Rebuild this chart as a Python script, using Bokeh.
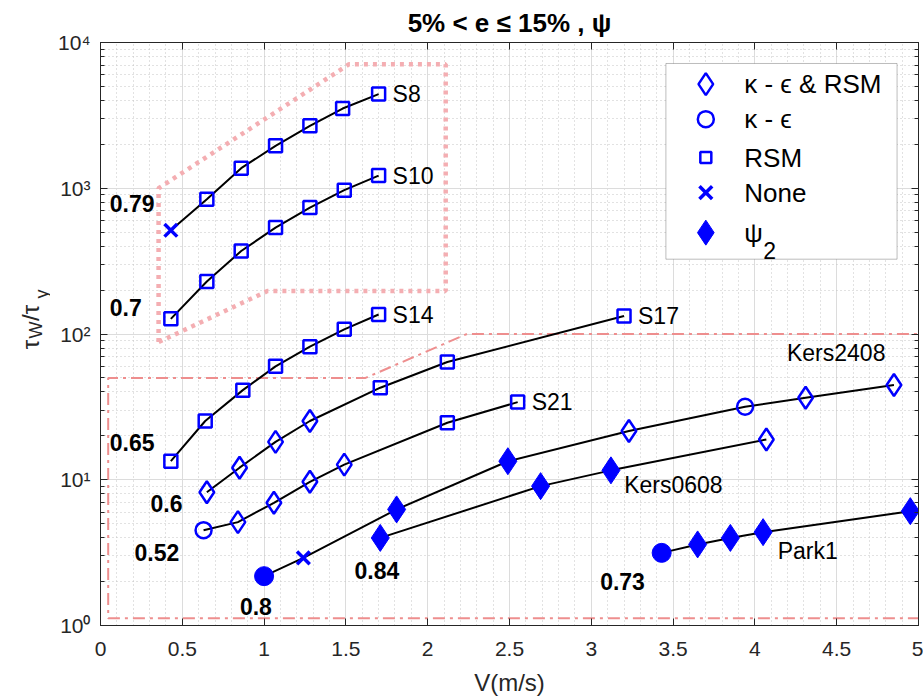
from math import pi
from bokeh.plotting import figure
from bokeh.layouts import row
from bokeh.models import (FixedTicker, CustomJSTickFormatter, LinearAxis, LogAxis,
                          Label, BoxAnnotation, Range1d)
from bokeh.core.properties import value
from bokeh.embed import file_html
from bokeh.resources import INLINE

FONT = "Liberation Sans"
BLUE = "#0000FF"
INK = "#262626"

# ---------------- data ----------------
series_names = ["S8", "S10", "S14", "S17", "S21", "Kers2408", "Kers0608", "Park1"]
series_e = ["0.79", "0.7", "0.65", "0.6", "0.52", "0.8", "0.84", "0.73"]

s8_v = [0.43, 0.65, 0.86, 1.07, 1.28, 1.48, 1.70]
s8_t = [515, 841, 1373, 1955, 2680, 3524, 4425]
s8_m = ["x", "s", "s", "s", "s", "s", "s"]

s10_v = [0.43, 0.65, 0.86, 1.07, 1.28, 1.49, 1.70]
s10_t = [127, 229, 371, 537, 737, 970, 1222]
s10_m = ["s", "s", "s", "s", "s", "s", "s"]

s14_v = [0.43, 0.64, 0.87, 1.07, 1.28, 1.49, 1.70]
s14_t = [13.4, 25.3, 41.2, 60.0, 81.9, 107.7, 136]
s14_m = ["s", "s", "s", "s", "s", "s", "s"]

s17_v = [0.65, 0.85, 1.07, 1.28, 1.71, 2.12, 3.20]
s17_t = [8.2, 12.1, 18.2, 25.3, 42.8, 64.2, 133]
s17_m = ["d", "d", "d", "d", "s", "s", "s"]

s21_v = [0.63, 0.84, 1.06, 1.28, 1.49, 2.12, 2.55]
s21_t = [4.51, 5.12, 6.95, 9.68, 12.7, 24.6, 34.1]
s21_m = ["o", "d", "d", "d", "d", "s", "s"]

k2408_v = [1.00, 1.24, 1.81, 2.49, 3.23, 3.94, 4.31, 4.85]
k2408_t = [2.18, 2.91, 6.26, 13.4, 21.6, 31.7, 36.5, 44.7]
k2408_m = ["O", "x", "D", "D", "d", "o", "d", "d"]

k0608_v = [1.71, 2.69, 3.12, 4.07]
k0608_t = [3.99, 9.04, 11.6, 18.9]
k0608_m = ["D", "D", "D", "d"]

park1_v = [3.43, 3.65, 3.85, 4.05, 4.95]
park1_t = [3.15, 3.60, 3.99, 4.37, 6.09]
park1_m = ["O", "D", "D", "D", "D"]

series_v = [s8_v, s10_v, s14_v, s17_v, s21_v, k2408_v, k0608_v, park1_v]
series_t = [s8_t, s10_t, s14_t, s17_t, s21_t, k2408_t, k0608_t, park1_t]
series_m = [s8_m, s10_m, s14_m, s17_m, s21_m, k2408_m, k0608_m, park1_m]

# region outlines (pink)
dot_region_v = [0.355, 0.355, 1.52, 2.11, 2.11, 1.02, 0.355]
dot_region_t = [88, 1000, 7100, 7100, 197, 197, 88]
dash_region_v = [5.4, 2.24, 1.62, 0.047, 0.047, 5.4]
dash_region_t = [100, 100, 50, 50, 1.12, 1.12]

# axis ticks
x_ticks = [0, 0.5, 1, 1.5, 2, 2.5, 3, 3.5, 4, 4.5, 5]
x_minor = [i / 10 for i in range(0, 51)]
y_ticks = [1, 10, 100, 1000, 10000]
y_minor = [m * 10 ** k for k in range(4) for m in range(2, 10)]

legend_labels = ["\u03ba - \u03f5 & RSM", "\u03ba - \u03f5", "RSM", "None", "\u03c8"]
legend_markers = ["d", "o", "s", "x", "D"]

# y-axis title pieces: tau_W / tau_y
ylab_text = ["\u03c4", "W", "/\u03c4", "y"]

# ---------------- layout values ----------------
e_label_x = [0.057, 0.057, 0.057, 0.306, 0.208, 0.852, 1.553, 3.054]
e_label_t = [789, 153, 17.9, 6.88, 3.15, 1.357, 2.39, 2.01]
name_label_pos = {"Kers2408": (4.196, 74.5), "Kers0608": (3.201, 9.19), "Park1": (4.139, 3.24)}
legend_x = 3.70
legend_text_x = 3.935
legend_t = [5180, 2980, 1624, 934, 496]
ylab_font = ["24px", "18px", "24px", "18px"]
ylab_base_x = [30, 35, 30, 41]        # baseline position (strip pixels, from left)
ylab_start_y = [368, 355, 334, 307]   # where each piece starts (page pixels, from top)

LABEL_W = 50          # width of the strip holding the y-axis title
TOTAL_H = 42 + 583 + 66

STYLE = {
    "s": dict(marker="square", size=13, fill_color=None, line_color=BLUE, line_width=2.5),
    "d": dict(marker="diamond", size=22, fill_color=None, line_color=BLUE, line_width=2.5),
    "o": dict(marker="circle", size=16, fill_color=None, line_color=BLUE, line_width=2.5),
    "x": dict(marker="x", size=18, line_color=BLUE, line_width=3.5),
    "D": dict(marker="diamond", size=27, fill_color=BLUE, line_color=BLUE, line_width=1),
    "O": dict(marker="circle", size=19, fill_color=BLUE, line_color=BLUE, line_width=1),
}

p = figure(frame_width=818, frame_height=583, x_range=Range1d(0, 5), y_range=Range1d(1, 1e4),
           y_axis_type="log", output_backend="svg", toolbar_location=None,
           min_border_left=100 - LABEL_W, min_border_right=5, min_border_top=42, min_border_bottom=66)
p.background_fill_color = "white"
p.border_fill_color = "white"
p.outline_line_color = INK
p.outline_line_width = 1

p.title.text = "5% < e \u2264 15% , \u03c8"
p.title.text_font = FONT
p.title.text_font_size = "26px"
p.title.text_font_style = "bold"
p.title.align = "center"
p.title.text_color = "black"

xt = FixedTicker(ticks=x_ticks, minor_ticks=x_minor)
yt = FixedTicker(ticks=y_ticks, minor_ticks=y_minor)
xfmt = CustomJSTickFormatter(code="return (Math.round(tick*10)/10).toString();")
yfmt = CustomJSTickFormatter(code="""
const sup = {"0":"\u2070","1":"\u00b9","2":"\u00b2","3":"\u00b3","4":"\u2074"};
const e = Math.round(Math.log10(tick));
return "10" + sup[String(e)];
""")
blank = CustomJSTickFormatter(code="return '';")

ax = p.xaxis[0]
ax.ticker = xt
ax.formatter = xfmt
ax.axis_label = "V(m/s)"
ax.axis_label_text_font = FONT
ax.axis_label_text_font_size = "24px"
ax.axis_label_text_font_style = "normal"
ax.axis_label_text_color = INK
ax.axis_label_standoff = 10
ax.major_label_text_font = FONT
ax.major_label_text_font_size = "21px"
ax.major_label_text_color = INK
ax.major_label_standoff = 16
ax.major_tick_in = 7
ax.major_tick_out = 0
ax.minor_tick_in = 0
ax.minor_tick_out = 0
ax.axis_line_color = INK
ax.major_tick_line_color = INK

ay = p.yaxis[0]
ay.ticker = yt
ay.formatter = yfmt
ay.major_label_text_font = FONT
ay.major_label_text_font_size = "21px"
ay.major_label_text_color = INK
ay.major_label_standoff = 10
ay.major_tick_in = 7
ay.major_tick_out = 0
ay.minor_tick_in = 4
ay.minor_tick_out = 0
ay.axis_line_color = INK
ay.major_tick_line_color = INK
ay.minor_tick_line_color = INK

top = LinearAxis(ticker=xt, formatter=blank, major_label_text_font_size="2px", major_tick_in=7,
                 major_tick_out=0, minor_tick_in=0, minor_tick_out=0, major_label_standoff=0,
                 axis_line_color=INK, major_tick_line_color=INK)
right = LogAxis(ticker=yt, formatter=blank, major_label_text_font_size="2px", major_tick_in=7,
                major_tick_out=0, minor_tick_in=4, minor_tick_out=0, major_label_standoff=0,
                axis_line_color=INK, major_tick_line_color=INK, minor_tick_line_color=INK)
p.add_layout(top, "above")
p.add_layout(right, "right")

for g in (p.xgrid[0], p.ygrid[0]):
    g.grid_line_color = "#dcdcdc"
    g.grid_line_width = 1
    g.minor_grid_line_color = "#c4c4c4"
    g.minor_grid_line_dash = "1 3"
    g.minor_grid_line_width = 1
p.xgrid[0].ticker = xt
p.ygrid[0].ticker = yt

# region outlines
p.line(dash_region_v, dash_region_t, line_color="#EE8E8E", line_width=2, line_dash="12 5 3 5")
p.line(dot_region_v, dot_region_t, line_color="#F4AEB2", line_width=4.5, line_dash="4 5")

# legend box (underlay, drawn above grid, below glyphs)
box = BoxAnnotation(left=3.456, right=4.869, bottom=326, top=7178, fill_color="white", fill_alpha=1,
                    line_color=INK, line_width=1, level="underlay")
p.add_layout(box)

# series lines
for v, t in zip(series_v, series_t):
    p.line(v, t, line_color="black", line_width=2)

# markers grouped by kind
for kind, st in STYLE.items():
    xs, ys = [], []
    for v, t, m in zip(series_v, series_t, series_m):
        for a, b, k in zip(v, t, m):
            if k == kind:
                xs.append(a)
                ys.append(b)
    if xs:
        p.scatter(xs, ys, **st)

# series name labels
lab_x, lab_y, lab_t, lab_off = [], [], [], []
for name, v, t in zip(series_names, series_v, series_t):
    if name in name_label_pos:
        lx, ly = name_label_pos[name]
        lab_x.append(lx); lab_y.append(ly); lab_off.append(0)
    else:
        lab_x.append(v[-1]); lab_y.append(t[-1]); lab_off.append(14)
    lab_t.append(name)
p.text(lab_x, lab_y, text=lab_t, x_offset=lab_off, text_font=value(FONT), text_font_size="23px",
       text_baseline="middle", text_align="left", text_color="black")

# e labels (bold)
p.text(e_label_x, e_label_t, text=series_e, text_font=value(FONT), text_font_size="23px",
       text_font_style="bold", text_baseline="middle", text_align="left", text_color="black")

# legend contents
for k, yy in zip(legend_markers, legend_t):
    st = dict(STYLE[k])
    if k == "s":
        st["size"] = 11
    if k == "D":
        st["size"] = 25
    p.scatter([legend_x], [yy], **st)
p.text([legend_text_x] * len(legend_labels), legend_t, text=legend_labels, text_font=value(FONT),
       text_font_size="26px", text_baseline="middle", text_align="left", text_color="black")
p.add_layout(Label(x=legend_text_x, y=legend_t[-1], x_offset=19, y_offset=-18, text="2",
                   text_font=FONT, text_font_size="23px", text_baseline="middle", text_color="black"))

# ---------- narrow strip with the rotated y-axis title ----------
yl = figure(title=None, width=LABEL_W, height=TOTAL_H, x_range=Range1d(0, LABEL_W),
            y_range=Range1d(TOTAL_H, 0), output_backend="svg", toolbar_location=None,
            x_axis_location=None, y_axis_location=None, min_border=0)
yl.outline_line_color = None
yl.grid.visible = False
yl.background_fill_color = "white"
yl.border_fill_color = "white"
yl.text(ylab_base_x, ylab_start_y, text=ylab_text, angle=pi / 2, text_font=value(FONT),
        text_font_size=ylab_font, text_color=INK, text_baseline="alphabetic", text_align="left")

layout = row(yl, p)
open("out.html", "w").write(file_html(layout, INLINE))
